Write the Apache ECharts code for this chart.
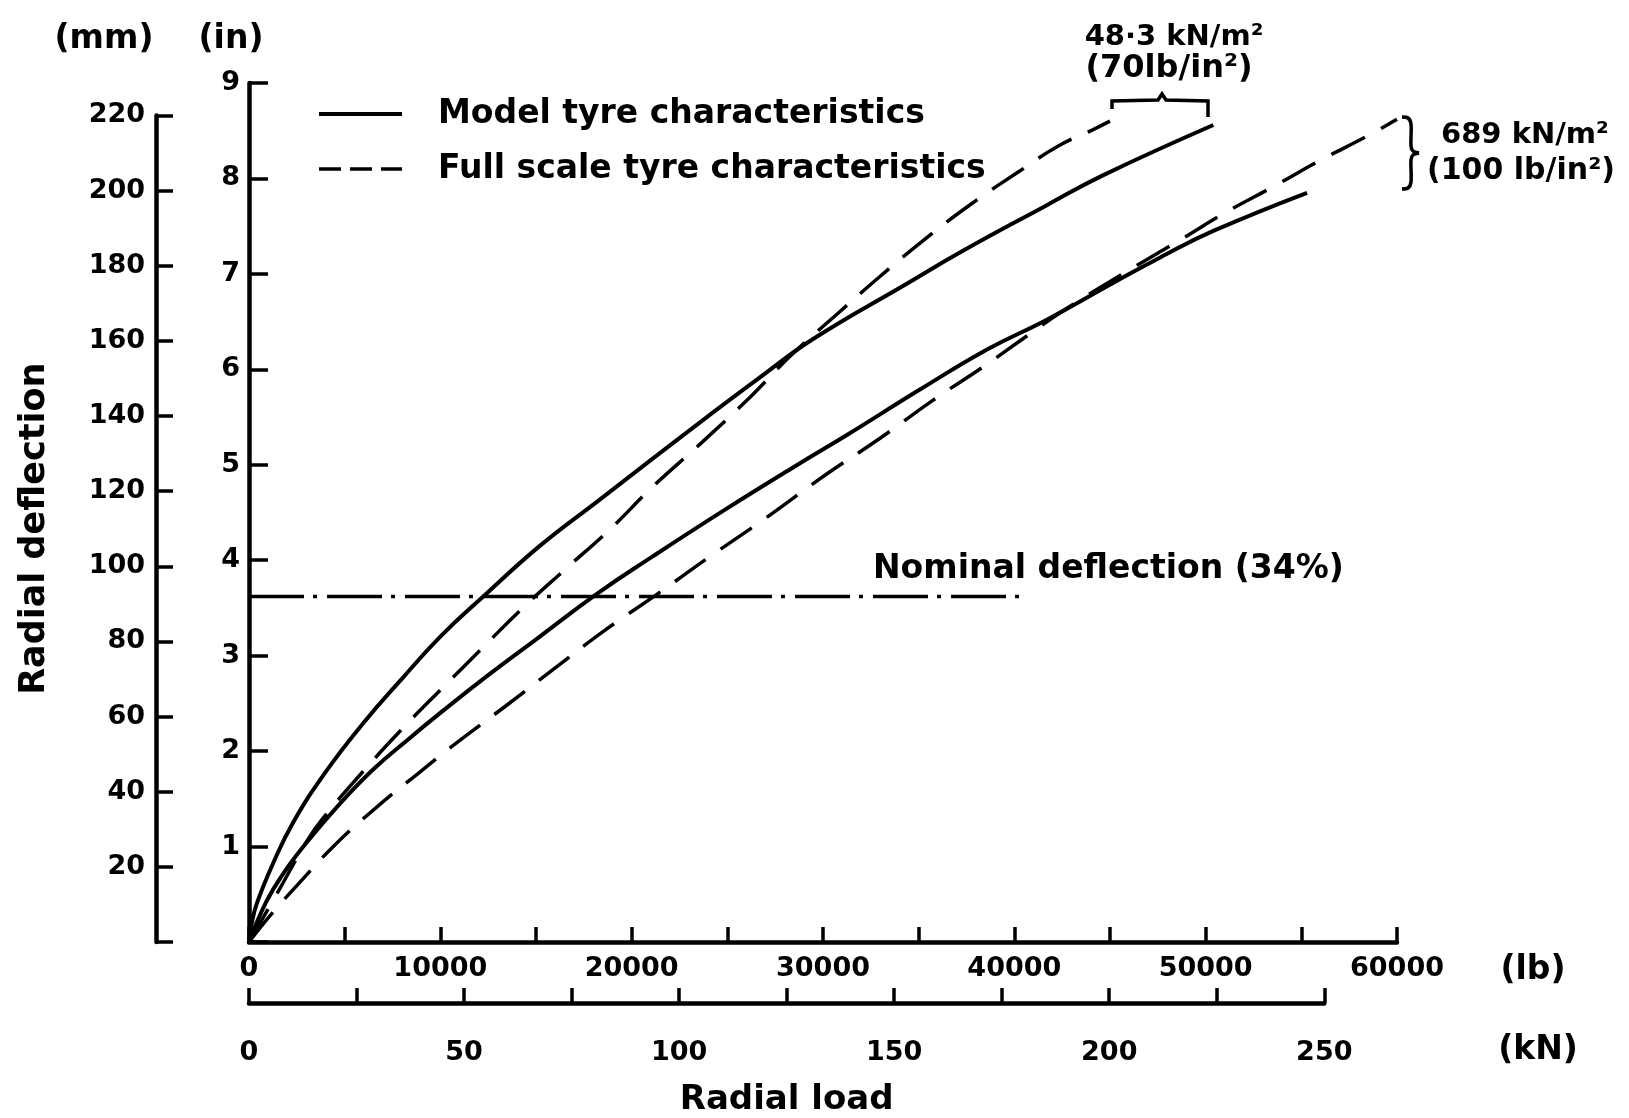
<!DOCTYPE html>
<html>
<head>
<meta charset="utf-8">
<script src="https://cdn.jsdelivr.net/npm/echarts@6/dist/echarts.min.js"></script>
<style>
  html, body { margin: 0; padding: 0; background: #fff; }
  #chart { width: 1629px; height: 1118px; }
</style>
</head>
<body>
<div id="chart"></div>
<script>
// radial load (lb) / radial deflection (in)
const modelLoad70 = [0, 150, 400, 1250, 2300, 4000, 6000, 8000, 10000, 12300, 15200, 18300, 21200, 24000, 26600, 29500, 34400, 37200, 41700, 44600, 50400];
const modelDefl70 = [0, 0.20, 0.40, 0.82, 1.25, 1.78, 2.30, 2.76, 3.20, 3.63, 4.15, 4.63, 5.08, 5.51, 5.90, 6.32, 6.90, 7.23, 7.72, 8.03, 8.56];

const fullLoad70 = [0, 1500, 3000, 3800, 5800, 7900, 10000, 12000, 14200, 16500, 18900, 21100, 23700, 26200, 28400, 30800, 32900, 35300, 37800, 40300, 42300, 44200, 45000];
const fullDefl70 = [0, 0.52, 1.05, 1.28, 1.75, 2.21, 2.64, 3.04, 3.48, 3.90, 4.33, 4.77, 5.24, 5.71, 6.16, 6.59, 6.96, 7.36, 7.74, 8.08, 8.34, 8.52, 8.60];

const modelLoad100 = [0, 900, 1800, 3000, 4800, 6500, 8300, 10000, 12400, 15200, 18200, 21100, 24800, 28500, 31400, 35000, 38600, 41700, 45300, 47600, 50400, 55300];
const modelDefl100 = [0, 0.42, 0.72, 1.04, 1.46, 1.81, 2.12, 2.40, 2.78, 3.20, 3.65, 4.04, 4.52, 4.98, 5.33, 5.78, 6.21, 6.52, 6.92, 7.17, 7.45, 7.85];

const fullLoad100 = [0, 1200, 2500, 4500, 6600, 8800, 11000, 13400, 15800, 18700, 21300, 24100, 27000, 30100, 33000, 35700, 38400, 40800, 42750, 46000, 48700, 51100, 53500, 55900, 58500, 60000];
const fullDefl100 = [0, 0.30, 0.59, 1.02, 1.40, 1.76, 2.11, 2.47, 2.84, 3.28, 3.64, 4.04, 4.44, 4.89, 5.28, 5.67, 6.03, 6.37, 6.64, 7.04, 7.36, 7.65, 7.91, 8.18, 8.45, 8.62];

// nominal deflection (34%)
const nominalLoad = [0, 40700];
const nominalDefl = 3.62;

const font = 'DejaVu Sans';
const black = '#000';

const pairs = (xs, ys) => xs.map((x, i) => [x, ys[i]]);

let chart = echarts.init(document.getElementById('chart'));

const axisLine = { show: true, onZero: false, lineStyle: { color: black, width: 4.5 } };
const labelStyle = { color: black, fontFamily: font, fontWeight: 'bold', fontSize: 27 };
const txt = (x, y, text, size, align) => ({
    type: 'text', x: x, y: y,
    style: { text: text, fill: black, fontFamily: font, fontSize: size, fontWeight: 'bold', align: align || 'center', verticalAlign: 'middle' }
});
const curve = (name, xs, ys, dashed) => ({
    name: name, type: 'line', symbol: 'none', smooth: 0.45,
    lineStyle: dashed ? { color: black, width: 3.5, type: [38, 18] } : { color: black, width: 4 },
    itemStyle: { color: black },
    data: pairs(xs, ys)
});

chart.setOption({
    backgroundColor: '#fff',
    animation: false,
    grid: [
        { left: 249, right: 232, top: 83, bottom: 176 },
        { left: 156, width: 10, top: 115.4, bottom: 176 },
        { left: 249, width: 1075.3, top: 1000, bottom: 115 }
    ],
    legend: {
        left: 317,
        top: 94,
        padding: 0,
        orient: 'vertical',
        itemWidth: 83,
        itemHeight: 14,
        itemGap: 15,
        itemStyle: { opacity: 0 },
        lineStyle: { width: 4 },
        textStyle: { color: black, fontFamily: font, fontWeight: 'bold', fontSize: 33, lineHeight: 40, padding: [0, 0, 0, 31] },
        data: [
            { name: 'Model tyre characteristics' },
            { name: 'Full scale tyre characteristics', lineStyle: { type: [22, 9], width: 3.5 } }
        ]
    },
    xAxis: [
        {
            gridIndex: 0, type: 'value', min: 0, max: 60000, interval: 5000,
            axisLine: axisLine,
            axisTick: { inside: true, length: 15, lineStyle: { color: black, width: 3.5 } },
            axisLabel: Object.assign({ margin: 13, formatter: v => (v % 10000 === 0 ? String(v) : '') }, labelStyle),
            splitLine: { show: false }
        },
        { gridIndex: 1, type: 'value', show: false, min: 0, max: 1 },
        {
            gridIndex: 2, type: 'value', min: 0, max: 250, interval: 25,
            axisLine: axisLine,
            axisTick: { inside: true, length: 15, lineStyle: { color: black, width: 3.5 } },
            axisLabel: Object.assign({ margin: 36, formatter: v => (v % 50 === 0 ? String(v) : '') }, labelStyle),
            splitLine: { show: false },
            name: 'Radial load', nameLocation: 'middle', nameGap: 80,
            nameTextStyle: { color: black, fontFamily: font, fontWeight: 'bold', fontSize: 34 }
        }
    ],
    yAxis: [
        {
            gridIndex: 0, type: 'value', min: 0, max: 9, interval: 1,
            axisLine: axisLine,
            axisTick: { inside: true, length: 19, lineStyle: { color: black, width: 3.5 } },
            axisLabel: Object.assign({ margin: 9, formatter: v => (v === 0 ? '' : String(v)) }, labelStyle),
            splitLine: { show: false }
        },
        {
            gridIndex: 1, type: 'value', min: 0, max: 220, interval: 20,
            axisLine: axisLine,
            axisTick: { inside: true, length: 17, lineStyle: { color: black, width: 3.5 } },
            axisLabel: Object.assign({ margin: 11, formatter: v => (v === 0 ? '' : String(v)) }, labelStyle),
            splitLine: { show: false },
            name: 'Radial deflection', nameLocation: 'middle', nameGap: 104, nameRotate: 90,
            nameTextStyle: { color: black, fontFamily: font, fontWeight: 'bold', fontSize: 35 }
        },
        { gridIndex: 2, type: 'value', show: false, min: 0, max: 1 }
    ],
    series: [
        curve('Model tyre characteristics', modelLoad70, modelDefl70, false),
        curve('Model tyre characteristics', modelLoad100, modelDefl100, false),
        curve('Full scale tyre characteristics', fullLoad70, fullDefl70, true),
        curve('Full scale tyre characteristics', fullLoad100, fullDefl100, true),
        {
            name: 'Nominal', type: 'line', symbol: 'none',
            lineStyle: { color: black, width: 3.5, type: [55, 9, 4, 10] },
            data: nominalLoad.map(x => [x, nominalDefl])
        }
    ],
    graphic: [
        txt(104, 39, '(mm)', 33),
        txt(231, 39, '(in)', 33),
        txt(1533, 970, '(lb)', 33),
        txt(1538, 1050, '(kN)', 33),
        txt(873, 569, 'Nominal deflection (34%)', 33, 'left'),
        txt(1174, 37, '48·3 kN/m²', 29),
        txt(1169, 69, '(70lb/in²)', 32),
        txt(1441, 135, '689 kN/m²', 29, 'left'),
        txt(1427, 171, '(100 lb/in²)', 30, 'left'),
        {
            type: 'polyline',
            shape: { points: [[1112, 109], [1112, 101], [1158, 100], [1162, 94], [1166, 100], [1208, 101], [1208, 117]] },
            style: { stroke: black, lineWidth: 3.5, fill: null }
        },
        {
            type: 'polyline',
            shape: { points: [[1402, 117], [1408, 118], [1411, 124], [1411, 146], [1413, 151], [1419, 153]], smooth: 0.3 },
            style: { stroke: black, lineWidth: 3.5, fill: null }
        },
        {
            type: 'polyline',
            shape: { points: [[1419, 153], [1413, 155], [1411, 160], [1411, 182], [1408, 188], [1402, 189]], smooth: 0.3 },
            style: { stroke: black, lineWidth: 3.5, fill: null }
        }
    ]
});
</script>
</body>
</html>
